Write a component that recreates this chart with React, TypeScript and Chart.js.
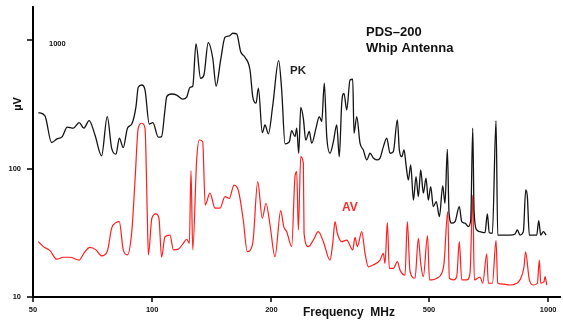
import React, { useEffect, useRef } from 'react';
import { Chart, registerables } from 'chart.js';

Chart.register(...registerables);

// Frequency (MHz) and level (µV) readings of the peak (PK) trace
const pkFreq = [
  51.6, 53.6, 55.7, 57.4, 59.3, 61.0, 63.2, 65.4, 67.2, 69.3,
  71.7, 74.5, 77.0, 79.0, 81.0, 82.6, 84.5, 86.6, 88.8, 91.0,
  92.2, 94.1, 95.9, 98.3, 100.4, 103.6, 105.6, 107.7, 108.8, 112.0,
  115.3, 119.4, 122.2, 124.6, 126.6, 129.0, 132.5, 135.1, 138.5, 142.2,
  145.0, 148.9, 152.7, 156.6, 159.7, 163.4, 167.3, 171.5, 176.6, 179.4,
  182.9, 185.4, 189.7, 192.7, 196.5, 201.5, 208.6, 212.3, 216.5, 221.9,
  225.0, 229.4, 231.7, 234.4, 237.2, 240.8, 244.2, 249.3, 252.8, 259.2,
  264.2, 268.0, 272.0, 275.9, 281.2, 286.7, 292.4, 296.8, 301.0, 305.0,
  309.9, 315.9, 320.9, 323.3, 328.5, 334.8, 341.3, 348.2, 354.9, 361.8,
  369.0, 376.1, 383.4, 391.1, 398.6, 406.4, 416.0, 420.8, 426.7, 432.5,
  437.5, 443.4, 449.6, 456.7, 463.7, 470.0, 476.5, 483.8, 491.4, 498.0,
  505.0, 512.7, 521.5, 531.2, 541.6, 548.8, 556.3, 561.8, 570.7, 581.7,
  596.4, 604.8, 616.5, 628.5, 637.3, 644.8, 649.7, 660.0, 672.7, 692.5,
  701.9, 710.1, 722.8, 738.3, 745.7, 770.4, 800.9, 824.5, 835.7, 848.9,
  865.4, 877.5, 885.8, 896.1, 917.3, 935.4, 946.4, 957.5, 972.2, 987.6,
];
const pkVal = [
  274, 258, 160, 170, 178, 211, 207, 229, 207, 237,
  183, 126, 255, 144, 130, 173, 146, 207, 223, 305,
  431, 449, 411, 223, 229, 176, 178, 287, 365, 382,
  375, 348, 361, 431, 441, 938, 507, 538, 961, 726,
  441, 704, 1058, 1083, 1137, 1123, 817, 739, 588, 365,
  324, 424, 191, 219, 187, 308, 695, 411, 156, 162,
  198, 178, 207, 132, 301, 247, 167, 195, 158, 207,
  255, 233, 464, 178, 132, 162, 219, 124, 324, 387,
  287, 491, 498, 189, 255, 158, 140, 117, 132, 121,
  117, 121, 148, 173, 132, 136, 240, 140, 124, 140,
  107, 81.6, 107, 57.0, 86.7, 60.6, 97.7, 64.4, 84.3, 57.0,
  72.5, 50.6, 55.4, 42.3, 73.4, 53.8, 141.7, 45.0, 37.6, 38.7,
  50.6, 38.7, 37.6, 35.4, 39.8, 207, 47.7, 33.3, 32.3, 31.7,
  44.4, 31.7, 31.4, 237, 30.4, 30.4, 30.4, 31.0, 33.3, 30.4,
  32.3, 68.2, 60.6, 30.4, 30.4, 30.4, 39.4, 30.4, 32.3, 30.4,
];

// Frequency (MHz) and level (µV) readings of the average (AV) trace
const avFreq = [
  51.6, 53.1, 55.2, 57.4, 59.6, 62.0, 65.4, 67.2, 69.6, 72.1,
  74.5, 77.0, 79.0, 81.0, 82.6, 84.5, 86.6, 88.8, 90.5, 92.2,
  94.1, 95.9, 97.2, 97.8, 99.8, 102.2, 104.0, 105.6, 107.7, 110.9,
  113.1, 116.4, 119.8, 122.2, 124.1, 125.3, 126.6, 129.5, 131.5, 134.1,
  136.1, 139.9, 144.1, 148.3, 152.7, 156.6, 160.9, 165.1, 169.8, 173.8,
  179.4, 184.7, 189.7, 193.8, 198.4, 204.2, 211.1, 214.9, 218.6, 225.0,
  229.4, 231.7, 233.9, 237.2, 240.8, 241.8, 247.9, 255.2, 262.7, 270.5,
  281.2, 285.7, 289.5, 293.4, 301.0, 309.9, 320.9, 325.2, 329.6, 338.2,
  344.7, 351.4, 361.8, 376.1, 383.4, 387.2, 392.4, 397.0, 406.4, 416.0,
  422.5, 434.9, 440.8, 447.8, 461.0, 470.0, 476.5, 483.8, 495.7, 501.5,
  508, 523, 538.4, 545.7, 557.5, 562.8, 576, 587.5, 596.4, 604.8,
  622.7, 634.7, 644.8, 650.8, 672.7, 683.4, 699.5, 706, 722.8, 738.3,
  745.7, 770.4, 800.9, 832.8, 848.9, 868.9, 876.5, 896.1, 917.3, 938.9,
  949.8, 957.5, 976.1, 981.7, 992,
];
const avVal = [
  27.0, 24.7, 23.0, 19.7, 20.4, 20.4, 19.4, 21.9, 24.4, 23.3,
  20.9, 22.6, 34.4, 38.0, 38.7, 23.3, 21.3, 32.3, 81.6, 207,
  226, 207, 42.3, 21.3, 41.1, 44.4, 41.1, 20.4, 29.5, 30.4,
  23.3, 23.6, 26.2, 28.2, 26.2, 96.5, 23.3, 116.9, 167.4, 162.5,
  52.1, 64.4, 49.2, 49.2, 60.6, 58.8, 74.6, 67.4, 39.8, 22.6,
  26.2, 79.3, 41.1, 53.8, 36.4, 20.6, 47.1, 35.4, 32.3, 24.7,
  86.7, 94.8, 33.3, 124, 110.3, 31.4, 24.7, 27.8, 32.3, 27.0,
  19.4, 26.2, 38.7, 31.4, 27.0, 27.8, 23.3, 29.2, 24.7, 32.3,
  21.9, 17.2, 17.8, 19.4, 21.9, 18.3, 38.0, 16.7, 16.7, 18.9,
  16.2, 14.8, 38.7, 15.8, 14.0, 28.7, 18.3, 14.4, 29.9, 13.6,
  13.6, 14.0, 15.3, 18.3, 46.3, 14.0, 13.6, 14.4, 27.0, 13.6,
  13.6, 15.3, 62.4, 13.6, 14.3, 12.8, 21.7, 12.8, 12.8, 27.5,
  12.8, 12.6, 12.4, 12.8, 13.6, 17.2, 22.5, 13.6, 12.4, 12.8,
  19.4, 12.8, 13.2, 14.4, 12.4,
];

const xTicks = [50, 100, 200, 500, 1000];
const yTicks = [10, 100, 1000];
const xRange = [50, 1071];
const yRange = [10, 1821];

const FONT = '"Liberation Sans", Arial, Helvetica, sans-serif';

const annotate = {
  id: 'annotate',
  afterDraw(chart: any) {
    const { ctx, chartArea } = chart;
    const x = chart.scales.x;
    const y = chart.scales.y;
    ctx.save();
    ctx.strokeStyle = '#000';
    ctx.lineWidth = 1.5;
    xTicks.forEach((v) => {
      const px = Math.round(x.getPixelForValue(v));
      ctx.beginPath();
      ctx.moveTo(px, chartArea.bottom - 1);
      ctx.lineTo(px, chartArea.bottom + 5);
      ctx.stroke();
    });
    yTicks.forEach((v) => {
      const py = Math.round(y.getPixelForValue(v));
      ctx.beginPath();
      ctx.moveTo(chartArea.left - 6, py);
      ctx.lineTo(chartArea.left + 1, py);
      ctx.stroke();
    });

    ctx.fillStyle = '#111';
    ctx.font = `bold 7.5px ${FONT}`;
    ctx.textBaseline = 'middle';
    ctx.textAlign = 'center';
    xTicks.forEach((v) => {
      ctx.fillText(String(v), x.getPixelForValue(v), chartArea.bottom + 13);
    });
    yTicks.forEach((v) => {
      const py = y.getPixelForValue(v);
      if (v === 1000) {
        ctx.textAlign = 'left';
        ctx.fillText(String(v), chartArea.left + 16, py + 3.5);
      } else {
        ctx.textAlign = 'right';
        ctx.fillText(String(v), chartArea.left - 12, py);
      }
    });

    ctx.font = `bold 12px ${FONT}`;
    ctx.textAlign = 'left';
    ctx.textBaseline = 'alphabetic';
    ctx.fillText('Frequency  MHz', 303, 316);

    ctx.save();
    ctx.translate(21, 104);
    ctx.rotate(-Math.PI / 2);
    ctx.textAlign = 'center';
    ctx.font = `bold 11px ${FONT}`;
    ctx.fillText('µV', 0, 0);
    ctx.restore();

    ctx.font = `bold 13px ${FONT}`;
    ctx.fillText('PDS\u2013200', 366, 36);
    ctx.fillText('Whip Antenna', 366, 52);

    ctx.font = `bold 11.5px ${FONT}`;
    ctx.fillStyle = '#222';
    ctx.fillText('PK', 290, 74);
    ctx.font = `bold 12px ${FONT}`;
    ctx.fillStyle = '#ff2a2a';
    ctx.fillText('AV', 342, 211);
    ctx.restore();
  },
};

export default function App() {
  const ref = useRef<HTMLCanvasElement>(null);
  useEffect(() => {
    document.body.style.margin = '0';
    const pk = pkFreq.map((f, i) => ({ x: f, y: pkVal[i] }));
    const av = avFreq.map((f, i) => ({ x: f, y: avVal[i] }));
    const chart = new Chart(ref.current as HTMLCanvasElement, {
      type: 'line',
      data: {
        datasets: [
          {
            label: 'PK',
            data: pk,
            borderColor: '#141414',
            borderWidth: 1.3,
            pointRadius: 0,
            cubicInterpolationMode: 'monotone',
            borderJoinStyle: 'round',
          },
          {
            label: 'AV',
            data: av,
            borderColor: '#ff1e1e',
            borderWidth: 1.2,
            pointRadius: 0,
            cubicInterpolationMode: 'monotone',
            borderJoinStyle: 'round',
          },
        ],
      },
      options: {
        responsive: false,
        animation: false,
        devicePixelRatio: 1,
        layout: { padding: { left: 0, top: 7, right: 3, bottom: 0 } },
        plugins: { legend: { display: false }, tooltip: { enabled: false } },
        scales: {
          x: {
            type: 'logarithmic',
            min: xRange[0],
            max: xRange[1],
            ticks: { display: false },
            grid: { display: false },
            border: { display: true, color: '#000', width: 2 },
            afterFit: (s: any) => { s.height = 25; },
          },
          y: {
            type: 'logarithmic',
            min: yRange[0],
            max: yRange[1],
            ticks: { display: false },
            grid: { display: false },
            border: { display: true, color: '#000', width: 2 },
            afterFit: (s: any) => { s.width = 33; },
          },
        },
      } as any,
      plugins: [annotate],
    });
    return () => chart.destroy();
  }, []);
  return (
    <div style={{ position: 'absolute', left: 0, top: 0, width: 563, height: 322, background: '#fff' }}>
      <canvas ref={ref} width={563} height={322} style={{ display: 'block' }} />
    </div>
  );
}
